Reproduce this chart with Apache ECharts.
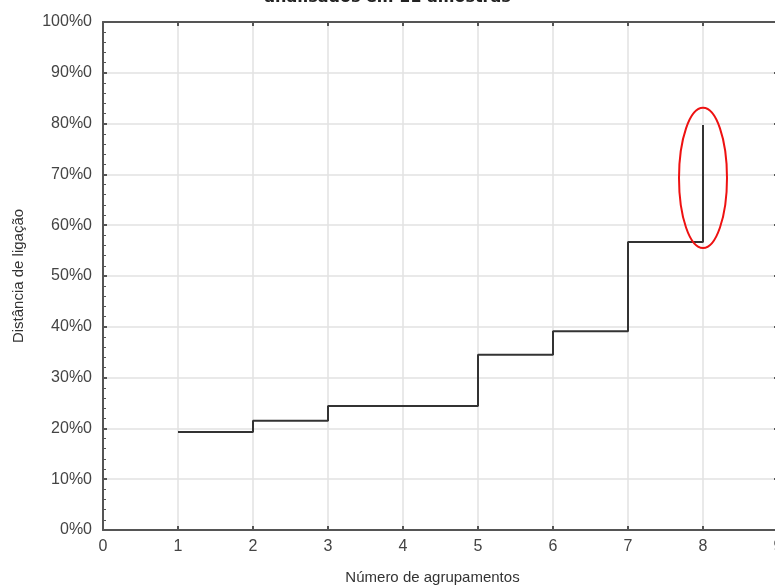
<!DOCTYPE html>
<html><head><meta charset="utf-8">
<script src="https://cdn.jsdelivr.net/npm/echarts@6/dist/echarts.min.js"></script>
<style>html,body{margin:0;padding:0;background:#fff}#c{width:775px;height:585px}</style>
</head><body><div id="c"></div>
<script>
var titleText = "analisados em 11 amostras";
var xAxisName = "Número de agrupamentos";
var yAxisName = "Distância de ligação";
var clusters = [1, 2, 3, 4, 5, 6, 7, 8];
var distances = [19.3, 21.5, 24.4, 24.4, 34.5, 39.1, 56.7, 79.7];
var highlightPoint = [8, 69.3];
var highlightRadius = [0.32, 13.8];

var chart = echarts.init(document.getElementById('c'));
var lineData = clusters.map(function (c, i) { return [c, distances[i]]; });
var tickColor = '#555';
var fontFam = '"Liberation Sans", Arial, sans-serif';
chart.setOption({
  animation: false,
  backgroundColor: '#fff',
  title: {
    text: titleText, left: 'center', top: -15,
    textStyle: { fontFamily: '"DejaVu Sans", sans-serif', fontWeight: 'bold', fontSize: 16, color: '#222' }
  },
  grid: { left: 103, right: -3, top: 22, bottom: 55, containLabel: false, outerBoundsMode: 'none' },
  xAxis: [{
    type: 'value', min: 0, max: 9, interval: 1,
    name: xAxisName, nameLocation: 'middle', nameGap: 40,
    nameTextStyle: { fontFamily: fontFam, fontSize: 15, color: '#333', padding: [0, 16, 0, 0] },
    axisLine: { show: true, onZero: false, lineStyle: { color: tickColor, width: 2 } },
    axisTick: { show: true, inside: true, length: 4, lineStyle: { color: tickColor, width: 2 } },
    axisLabel: { fontFamily: fontFam, fontSize: 16, color: '#444', margin: 9 },
    splitLine: { show: true, lineStyle: { color: '#e2e2e2', width: 1.5 } }
  }, {
    type: 'value', min: 0, max: 9, interval: 1, position: 'top',
    axisLine: { show: true, onZero: false, lineStyle: { color: tickColor, width: 2 } },
    axisTick: { show: true, inside: true, length: 4, lineStyle: { color: tickColor, width: 2 } },
    axisLabel: { show: false }, splitLine: { show: false }
  }],
  yAxis: [{
    type: 'value', min: 0, max: 100, interval: 10,
    name: yAxisName, nameLocation: 'middle', nameGap: 77, nameRotate: 90,
    nameTextStyle: { fontFamily: fontFam, fontSize: 15, color: '#333' },
    axisLine: { show: true, onZero: false, lineStyle: { color: tickColor, width: 2 } },
    axisTick: { show: true, inside: true, length: 4, lineStyle: { color: tickColor, width: 2 } },
    minorTick: { show: true, splitNumber: 5, length: 3, lineStyle: { color: tickColor, width: 1 } },
    axisLabel: { fontFamily: fontFam, fontSize: 16, color: '#444', margin: 11,
      formatter: function (v) { return v + '%0'; } },
    splitLine: { show: true, lineStyle: { color: '#e2e2e2', width: 1.5 } }
  }, {
    type: 'value', min: 0, max: 100, interval: 10, position: 'right',
    axisLine: { show: true, onZero: false, lineStyle: { color: tickColor, width: 2 } },
    axisTick: { show: true, inside: true, length: 4, lineStyle: { color: tickColor, width: 2 } },
    axisLabel: { show: false }, splitLine: { show: false }
  }],
  series: [{
    type: 'line', step: 'end', data: lineData, symbol: 'none',
    lineStyle: { color: '#333', width: 2 }, z: 3
  }, {
    type: 'custom', data: [highlightPoint], z: 4,
    renderItem: function (params, api) {
      var c = api.coord([api.value(0), api.value(1)]);
      var s = api.size([highlightRadius[0], highlightRadius[1]]);
      return {
        type: 'ellipse',
        shape: { cx: c[0], cy: c[1], rx: s[0], ry: s[1] },
        style: { fill: 'none', stroke: '#ee1111', lineWidth: 2 }
      };
    }
  }]
});
</script></body></html>
